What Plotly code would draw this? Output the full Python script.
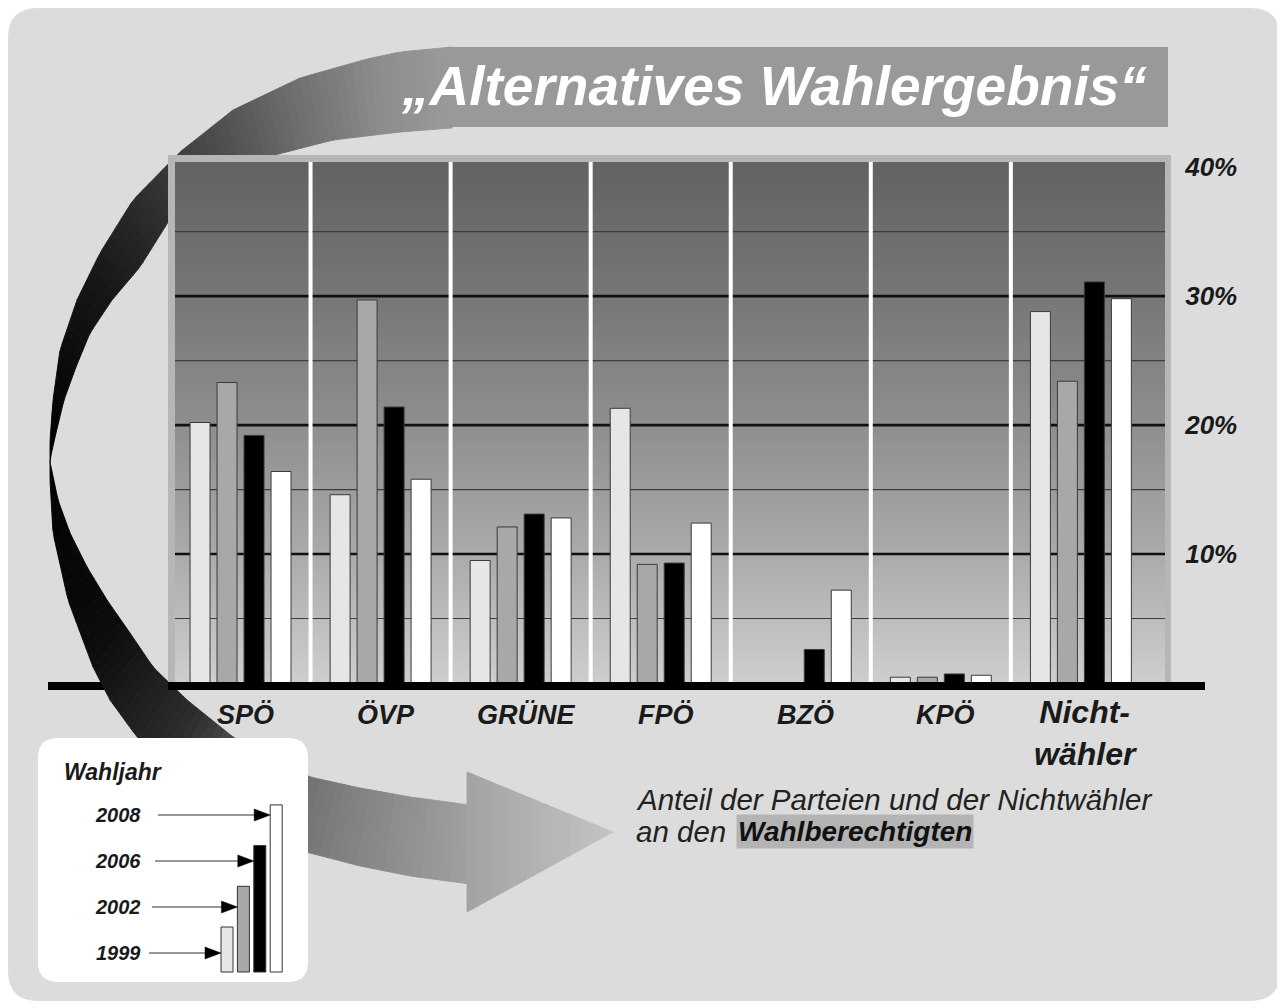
import numpy as np
import plotly.graph_objects as go

# ---------------- data ----------------
categories = ["SPÖ", "ÖVP", "GRÜNE", "FPÖ", "BZÖ", "KPÖ", "Nichtwähler"]
category_labels = ["SPÖ", "ÖVP", "GRÜNE", "FPÖ", "BZÖ", "KPÖ", "Nicht-<br>wähler"]
years = ["1999", "2002", "2006", "2008"]
v1999 = [20.2, 14.6, 9.5, 21.3, None, 0.45, 28.8]
v2002 = [23.3, 29.7, 12.1, 9.2, None, 0.45, 23.4]
v2006 = [19.2, 21.4, 13.1, 9.3, 2.6, 0.7, 31.1]
v2008 = [16.4, 15.8, 12.8, 12.4, 7.2, 0.6, 29.8]
series_values = [v1999, v2002, v2006, v2008]
y_ticks = [10, 20, 30, 40]
title_text = "„Alternatives Wahlergebnis“"
subtitle_line1 = "Anteil der Parteien und der Nichtwähler"
subtitle_line2a = "an den"
subtitle_line2b = "Wahlberechtigten"
legend_title = "Wahljahr"

# ---------------- style ----------------
bar_colors = ["#e6e6e6", "#a8a8a8", "#000000", "#ffffff"]
FONT = "Liberation Sans, Arial, Helvetica, sans-serif"
PAGE_W, PAGE_H = 1285, 1008
BODY = 8  # browser default body margin
W, H = PAGE_W - BODY, PAGE_H - BODY
L, R, T, B = 175, 1165, 162, 683  # plot area in page pixels
CAT_LEFT, CAT_W = 170.5, 140.06    # where the category band starts, px per category


def px(x):
    return (x - L) / (R - L)


def py(y):
    return (B - y) / (B - T)


def gray(v):
    v = int(round(max(0, min(255, v))))
    return f"rgb({v},{v},{v})"


def P(x, y):
    return f"{px(x):.5f},{py(y):.5f}"


def poly_path(pts):
    return "M " + " L ".join(P(x, y) for x, y in pts) + " Z"


def resample(pts, n):
    pts = np.asarray(pts, float)
    d = np.r_[0, np.cumsum(np.hypot(*np.diff(pts, axis=0).T))]
    t = np.linspace(0, d[-1], n)
    return np.c_[np.interp(t, d, pts[:, 0]), np.interp(t, d, pts[:, 1])]


shapes = []


def add_poly(pts, color, layer="below", lw=0.9):
    shapes.append(dict(type="path", path=poly_path(pts), xref="paper", yref="paper",
                       fillcolor=color, line=dict(color=color, width=lw), layer=layer))


def add_rect(x0, y0, x1, y1, color, layer="below", line_color=None, lw=0):
    shapes.append(dict(type="rect", xref="paper", yref="paper",
                       x0=px(x0), x1=px(x1), y0=py(y1), y1=py(y0),
                       fillcolor=color, layer=layer,
                       line=dict(color=line_color or color, width=lw)))


def rounded_path(x0, y0, x1, y1, r):
    return (f"M {P(x0 + r, y0)} L {P(x1 - r, y0)} Q {P(x1, y0)} {P(x1, y0 + r)} "
            f"L {P(x1, y1 - r)} Q {P(x1, y1)} {P(x1 - r, y1)} L {P(x0 + r, y1)} "
            f"Q {P(x0, y1)} {P(x0, y1 - r)} L {P(x0, y0 + r)} Q {P(x0, y0)} {P(x0 + r, y0)} Z")


def band(edge_a, edge_b, stops, n):
    A = resample(edge_a, n + 1)
    Bq = resample(edge_b, n + 1)
    ts, vs = zip(*stops)
    for i in range(n):
        c = gray(np.interp((i + 0.5) / n, ts, vs))
        add_poly([A[i], A[i + 1], Bq[i + 1], Bq[i]], c)


# outer rounded frame
shapes.append(dict(type="path", path=rounded_path(8, 8, 1280, 1001, 30), xref="paper", yref="paper",
                   fillcolor="#dcdcdc", line=dict(width=0), layer="below"))

# left part of the base line (under the arrow)
add_rect(48, 682, 176, 690, "#000000")

# decorative curved arrow - upper part
top_outer = [(452, 47), (400, 52), (367, 59), (300, 78), (233, 110), (180, 152), (133, 200),
             (100, 253), (77, 300), (60, 350), (53, 400), (50, 440), (50, 462)]
top_inner = [(452, 128), (400, 132), (333, 140), (267, 157), (213, 180), (180, 203), (160, 235),
             (140, 267), (112, 300), (90, 333), (76, 367), (64, 400), (56, 433), (51, 455), (50, 462)]
band(top_outer, top_inner,
     [(0, 154), (0.12, 140), (0.25, 112), (0.4, 76), (0.55, 45), (0.7, 22), (0.85, 10), (1, 0)], 70)

# lower part
bot_left = [(50, 462), (50, 480), (53, 533), (68, 600), (93, 667), (110, 700), (137, 737),
            (200, 800), (260, 838), (310, 853), (360, 866), (410, 876), (470, 884)]
bot_right = [(50, 462), (58, 500), (70, 533), (87, 567), (107, 600), (130, 633), (153, 667),
             (187, 700), (233, 737), (270, 760), (310, 777), (360, 788), (410, 797), (470, 805)]
band(bot_left, bot_right,
     [(0, 0), (0.3, 12), (0.5, 45), (0.65, 100), (0.8, 128), (1, 160)], 70)

# arrow head
hx0, hx1 = 467, 613
nh = 24


def head_top(x):
    return 772 + (x - hx0) / (hx1 - hx0) * (832 - 772)


def head_bot(x):
    return 912 + (x - hx0) / (hx1 - hx0) * (832 - 912)


for i in range(nh):
    xa = hx0 + (hx1 - hx0) * i / nh
    xb = hx0 + (hx1 - hx0) * (i + 1) / nh
    add_poly([(xa, head_top(xa)), (xb, head_top(xb)), (xb, head_bot(xb)), (xa, head_bot(xa))],
             gray(162 + 34 * (i + 0.5) / nh))

# plot border
add_rect(168, 155, 1171, 684, "#b6b6b6")

# plot gradient background
NB = 70
g_stops = [(0, 98), (0.25, 118), (0.5, 142), (0.75, 170), (1, 206)]
gt, gv = zip(*g_stops)
for i in range(NB):
    c = gray(np.interp((i + 0.5) / NB, gt, gv))
    shapes.append(dict(type="rect", xref="paper", yref="paper", x0=0, x1=1,
                       y0=1 - i / NB, y1=1 - (i + 1) / NB - 0.002,
                       fillcolor=c, line=dict(width=0), layer="below"))

# gridlines
for v in y_ticks[:-1]:
    shapes.append(dict(type="line", xref="paper", yref="y", x0=0, x1=1, y0=v, y1=v,
                       line=dict(color="#101010", width=2.6), layer="below"))
for v in y_ticks:
    shapes.append(dict(type="line", xref="paper", yref="y", x0=0, x1=1, y0=v - 5, y1=v - 5,
                       line=dict(color="#3c3c3c", width=1.2), layer="below"))

# category separators
for i in range(len(categories) - 1):
    shapes.append(dict(type="line", xref="x", yref="paper", x0=i + 0.5, x1=i + 0.5, y0=0, y1=1,
                       line=dict(color="#ffffff", width=4), layer="below"))

# title banner
add_rect(446, 47, 1168, 127, "#999999")

# legend box
shapes.append(dict(type="path", path=rounded_path(38, 738, 308, 982, 20), xref="paper", yref="paper",
                   fillcolor="#ffffff", line=dict(width=0), layer="below"))

annotations = []
for i, yr in enumerate(years):
    bx0 = 221 + i * 16.4
    btop = 927 - i * 40.7
    add_rect(bx0, btop, bx0 + 12, 972, bar_colors[i], line_color="#333333", lw=1)
    ly = 953 - i * 46
    lx0 = 149 + i * 3
    shapes.append(dict(type="line", xref="paper", yref="paper", x0=px(lx0), x1=px(bx0 - 14),
                       y0=py(ly), y1=py(ly), line=dict(color="#333333", width=1.2), layer="below"))
    add_poly([(bx0 - 16, ly - 6), (bx0, ly), (bx0 - 16, ly + 6)], "#000000", lw=0.5)
    annotations.append(dict(x=px(143), y=py(ly), xref="paper", yref="paper", text=yr,
                            showarrow=False, xanchor="right", yanchor="middle",
                            font=dict(family=FONT, size=20, color="#1a1a1a", weight="bold", style="italic")))

annotations.append(dict(x=px(62), y=py(772), xref="paper", yref="paper", text=legend_title,
                        showarrow=False, xanchor="left", yanchor="middle",
                        font=dict(family=FONT, size=23, color="#1a1a1a", weight="bold", style="italic")))

# main base line over the bars
add_rect(168, 682, 1205, 690, "#000000", layer="above")

# ---------------- traces ----------------
fig = go.Figure()
for yr, vals, col in zip(years, series_values, bar_colors):
    fig.add_trace(go.Bar(x=categories, y=vals, name=yr,
                         marker=dict(color=col, line=dict(color="#3a3a3a", width=1)),
                         showlegend=False, hoverinfo="x+y+name"))

# category labels
for cat, lab in zip(categories, category_labels):
    big = "<br>" in lab
    annotations.append(dict(x=cat, y=py(733 if big else 715), xref="x", yref="paper", text=lab,
                            showarrow=False, xanchor="center", yanchor="middle", xshift=5,
                            font=dict(family=FONT, size=32 if big else 27, color="#1a1a1a",
                                      weight="bold", style="italic")))

# title
annotations.append(dict(x=px(774), y=py(86), xref="paper", yref="paper", text=title_text,
                        showarrow=False, xanchor="center", yanchor="middle",
                        font=dict(family=FONT, size=55, color="#ffffff", weight="bold", style="italic")))

# subtitle
annotations.append(dict(x=px(634), y=py(799), xref="paper", yref="paper", text=subtitle_line1,
                        showarrow=False, xanchor="left", yanchor="middle",
                        font=dict(family=FONT, size=29.5, color="#222222", style="italic")))
annotations.append(dict(x=px(634), y=py(831), xref="paper", yref="paper", text=subtitle_line2a,
                        showarrow=False, xanchor="left", yanchor="middle",
                        font=dict(family=FONT, size=29.5, color="#222222", style="italic")))
annotations.append(dict(x=px(736), y=py(831), xref="paper", yref="paper", text=subtitle_line2b,
                        showarrow=False, xanchor="left", yanchor="middle", bgcolor="#b4b4b4", borderpad=1,
                        font=dict(family=FONT, size=28, color="#111111", weight="bold", style="italic")))

x_lo = -0.5 + (L - CAT_LEFT) / CAT_W
x_hi = -0.5 + (R - CAT_LEFT) / CAT_W

fig.update_layout(
    width=W, height=H,
    margin=dict(l=L - BODY, r=PAGE_W - R, t=T - BODY, b=PAGE_H - B, pad=0),
    paper_bgcolor="#ffffff",
    plot_bgcolor="rgba(0,0,0,0)",
    barmode="group",
    bargap=0.229,
    bargroupgap=0.26,
    showlegend=False,
    shapes=shapes,
    annotations=annotations,
    xaxis=dict(range=[x_lo, x_hi], showticklabels=False, showgrid=False,
               zeroline=False, showline=False, ticks="", fixedrange=True),
    yaxis=dict(range=[0, 40.4], side="right", tickvals=y_ticks, ticktext=[f"{v}%" for v in y_ticks],
               showgrid=False, zeroline=False, showline=False, ticks="outside", ticklen=14,
               tickcolor="rgba(0,0,0,0)", fixedrange=True,
               tickfont=dict(family=FONT, size=26, color="#1a1a1a", weight="bold", style="italic")),
)

fig.write_html("out.html")
